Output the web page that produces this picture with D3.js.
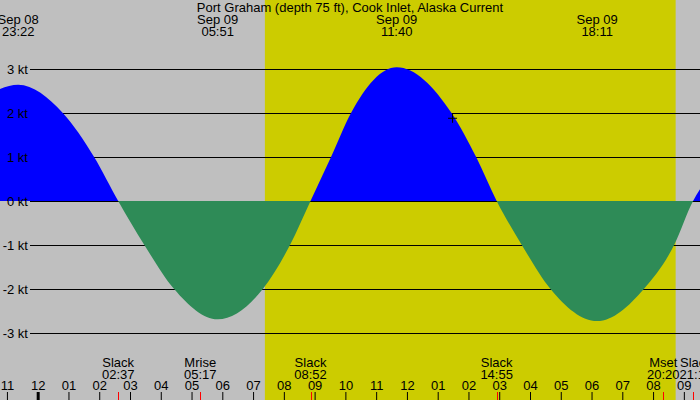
<!DOCTYPE html>
<html><head><meta charset="utf-8">
<script src="https://cdn.jsdelivr.net/npm/d3@7"></script>
<style>
body{margin:0;background:#fff}
svg{display:block}
text{font-family:"Liberation Sans",Arial,Helvetica,sans-serif;font-size:13px;fill:#000}
</style>
</head><body>
<svg id="c" width="700" height="400"></svg>
<script>
// ---- data ----
const title = "Port Graham (depth 75 ft), Cook Inlet, Alaska Current";
const domainTimes = ["2024-09-08 22:46:30", "2024-09-09 21:31:30"];
const daylightTimes = ["2024-09-09 07:23:00", "2024-09-09 20:44:00"];

const curveTimes = [
  "2024-09-08 22:40:00","2024-09-08 23:22:00","2024-09-09 00:49:00","2024-09-09 01:50:00",
  "2024-09-09 02:37:00","2024-09-09 03:28:00","2024-09-09 04:26:00","2024-09-09 05:51:00",
  "2024-09-09 07:19:00","2024-09-09 08:12:00","2024-09-09 08:52:00","2024-09-09 09:32:00",
  "2024-09-09 10:11:00","2024-09-09 11:40:00","2024-09-09 13:27:00","2024-09-09 14:15:00",
  "2024-09-09 14:55:00","2024-09-09 15:44:00","2024-09-09 16:40:00","2024-09-09 18:11:00",
  "2024-09-09 19:42:00","2024-09-09 20:41:00","2024-09-09 21:18:00","2024-09-09 21:35:00"
];
const curveValues = [
  2.52, 2.64, 2.0, 1.0,
  0, -1, -2, -2.69,
  -2, -1, 0, 1,
  2, 3.04, 2, 1,
  0, -1, -2, -2.73,
  -2, -1, 0, 0.33
];

const extremeTimes = ["2024-09-08 23:22:00","2024-09-09 05:51:00","2024-09-09 11:40:00","2024-09-09 18:11:00"];

const eventNames = ["Slack","Mrise","Slack","Slack","Mset","Slack"];
const eventTimes = ["2024-09-09 02:37:00","2024-09-09 05:17:00","2024-09-09 08:52:00",
                    "2024-09-09 14:55:00","2024-09-09 20:20:00","2024-09-09 21:18:00"];

const yTickValues = [3, 2, 1, 0, -1, -2, -3];
const yTickUnit = " kt";

const markerTime = "2024-09-09 13:28:00";
const markerValue = 1.88;

// ---- colours ----
const nightColor = "#bfbfbf";
const dayColor = "#cccc00";
const floodColor = "#0000ff";
const ebbColor = "#2e8b57";

// ---- drawing ----
const W = 700, H = 400;
const parse = d3.utcParse("%Y-%m-%d %H:%M:%S");
const svg = d3.select("#c");

const x = d3.scaleUtc().domain(domainTimes.map(parse)).range([0, W]);
const y = d3.scaleLinear().domain([-3, 3]).range([333, 69]);

svg.append("rect").attr("width", W).attr("height", H).attr("fill", nightColor);
const dl = daylightTimes.map(parse);
svg.append("rect").attr("x", x(dl[0])).attr("y", 0)
  .attr("width", x(dl[1]) - x(dl[0])).attr("height", H).attr("fill", dayColor);

// grid lines
svg.append("g").selectAll("line").data(yTickValues).join("line")
  .attr("x1", 30).attr("x2", W)
  .attr("y1", d => y(d) + 0.5).attr("y2", d => y(d) + 0.5)
  .attr("stroke", "#000").attr("stroke-width", 1);

// clip paths
const defs = svg.append("defs");
defs.append("clipPath").attr("id", "above").append("rect")
  .attr("x", 0).attr("y", 0).attr("width", W).attr("height", y(0));
defs.append("clipPath").attr("id", "below").append("rect")
  .attr("x", 0).attr("y", y(0)).attr("width", W).attr("height", H - y(0));

const pts = curveTimes.map((t, i) => ({t: parse(t), v: curveValues[i]}));
const area = d3.area()
  .x(d => x(d.t)).y0(y(0)).y1(d => y(d.v))
  .curve(d3.curveMonotoneX);

svg.append("path").datum(pts).attr("d", area)
  .attr("fill", floodColor).attr("clip-path", "url(#above)");
svg.append("path").datum(pts).attr("d", area)
  .attr("fill", ebbColor).attr("clip-path", "url(#below)");

// y labels
svg.append("g").selectAll("text").data(yTickValues).join("text")
  .attr("x", 28).attr("y", d => y(d) + 5)
  .attr("text-anchor", "end")
  .text(d => d + yTickUnit);

// title
svg.append("text").attr("x", W / 2).attr("y", 11.5)
  .attr("text-anchor", "middle").text(title);

// extremes at top
const fDate = d3.utcFormat("%b %d"), fTime = d3.utcFormat("%H:%M");
const ext = svg.append("g").selectAll("g").data(extremeTimes.map(parse)).join("g");
ext.append("text").attr("x", d => x(d)).attr("y", 24)
  .attr("text-anchor", "middle").text(d => fDate(d));
ext.append("text").attr("x", d => x(d)).attr("y", 36)
  .attr("text-anchor", "middle").text(d => fTime(d));

// marker
const mx = x(parse(markerTime)), my = y(markerValue);
svg.append("path")
  .attr("d", `M${mx - 4},${my}H${mx + 5}M${mx + 0.5},${my - 4.5}V${my + 4.5}`)
  .attr("stroke", "#000").attr("stroke-width", 1).attr("fill", "none");

// hour axis at the bottom
const axis = d3.axisTop(x)
  .ticks(d3.utcHour.every(1))
  .tickFormat(d3.utcFormat("%I"))
  .tickSize(8).tickPadding(2);
const ag = svg.append("g").attr("transform", `translate(0,${H})`).call(axis);
ag.select(".domain").remove();
ag.selectAll(".tick line").attr("stroke", "#000")
  .attr("stroke-width", d => d.getUTCHours() === 0 ? 3 : 1);
ag.selectAll(".tick text")
  .attr("fill", "#000")
  .style("font-family", '"Liberation Sans",Arial,sans-serif')
  .style("font-size", "13px");

// events (slack, moon)
const ev = svg.append("g").selectAll("g")
  .data(eventTimes.map((t, i) => ({t: parse(t), n: eventNames[i]}))).join("g");
ev.append("line")
  .attr("x1", d => Math.round(x(d.t)) + 0.5).attr("x2", d => Math.round(x(d.t)) + 0.5)
  .attr("y1", H - 8).attr("y2", H)
  .attr("stroke", "#ff0000").attr("stroke-width", 1);
const labels = ev.append("g").attr("class", "lbl");
labels.append("text").attr("x", d => x(d.t)).attr("y", 366.5)
  .attr("text-anchor", "middle").text(d => d.n);
labels.append("text").attr("x", d => x(d.t)).attr("y", 378.5)
  .attr("text-anchor", "middle").text(d => fTime(d.t));

// keep neighbouring event labels from colliding: shift right when needed
let prevRight = -Infinity;
labels.each(function(d) {
  const bb = this.getBBox();
  let shift = 0;
  if (bb.x < prevRight) shift = prevRight - bb.x;
  d3.select(this).attr("transform", `translate(${shift},0)`);
  prevRight = bb.x + bb.width + shift;
});
</script>
</body></html>
